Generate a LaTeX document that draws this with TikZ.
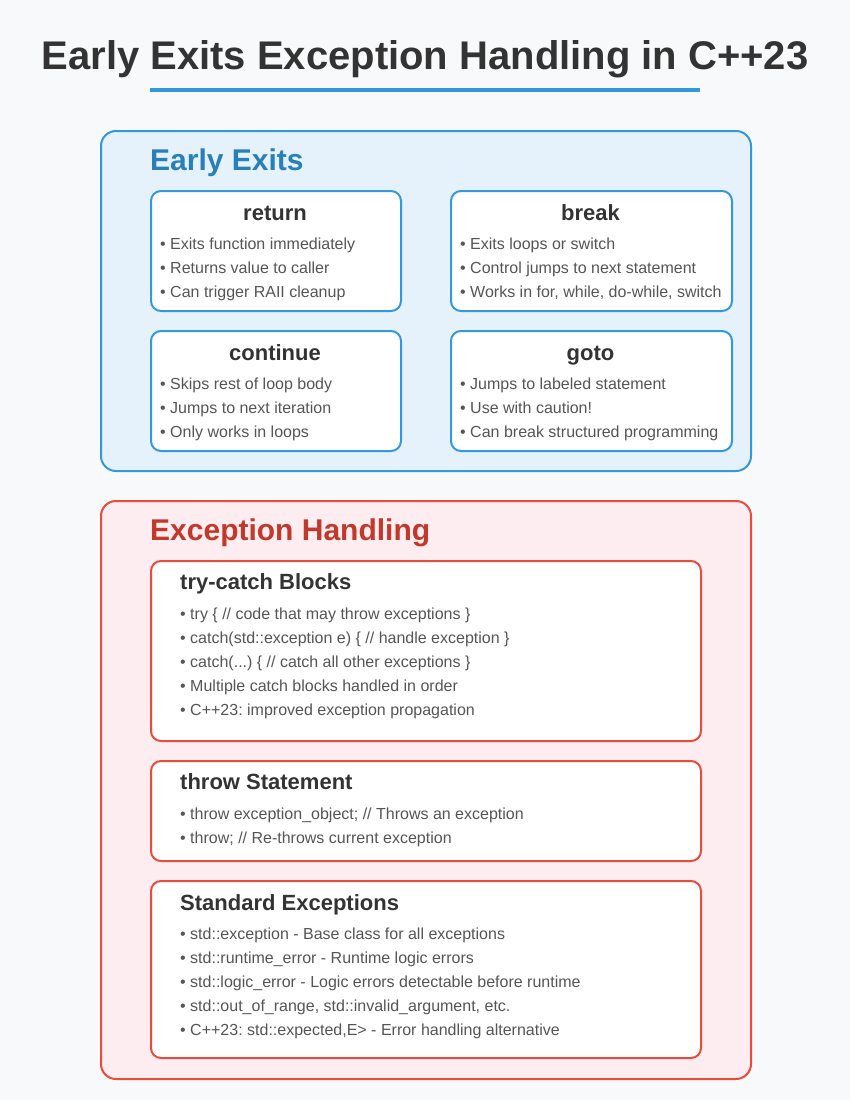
\documentclass[tikz,border=0pt]{standalone}
\usepackage{fontspec}
\setmainfont{Liberation Sans}
\usepackage{tikz}
\definecolor{bg}{HTML}{F8F9FA}
\definecolor{exblue}{HTML}{3498DB}
\definecolor{exbluedark}{HTML}{2980B9}
\definecolor{exfill}{HTML}{E5F2FB}
\definecolor{errred}{HTML}{E74C3C}
\definecolor{errdark}{HTML}{C0392B}
\definecolor{errfill}{HTML}{FDEDF1}
\definecolor{ink}{HTML}{333333}
\definecolor{inkgray}{HTML}{555555}
\newcommand{\threedots}{...}
\frenchspacing
\tikzset{
	panel/.style={draw, line width=2pt, rounded corners=15pt, inner sep=0pt, anchor=north west},
	card/.style={draw, fill=white, line width=2pt, rounded corners=10pt, inner sep=0pt, anchor=north west},
	heading/.style={font=\fontsize{30}{36}\selectfont\bfseries, anchor=base west, inner sep=0pt},
	cardtitle/.style={font=\fontsize{22}{26}\selectfont\bfseries, text=ink, inner sep=0pt},
	item/.style={font=\fontsize{16}{19}\selectfont, text=inkgray, anchor=base west, inner sep=0pt},
}

\begin{document}
\begin{tikzpicture}[x=1pt,y=-1pt]
	\fill[bg] (0,0) rectangle (850,1100);
	\useasboundingbox (0,0) rectangle (850,1100);
	% title
	\node (title) at(425,69)[anchor=base, inner sep=0pt, font=\fontsize{40}{48}\selectfont\bfseries, text=ink]{Early Exits Exception Handling in C++23};
	\draw[exblue, line width=3.5pt] (150,90) -- (700,90);

	% early exits
	\node (exits) at(100,130)[panel, draw=exblue, fill=exfill, minimum width=650pt, minimum height=340pt]{};
	\node (exits-h) at(150,170)[heading, text=exbluedark]{Early Exits};
	\node (ret) at(150,190)[card, draw=exblue, minimum width=250pt, minimum height=120pt]{};
	\node (brk) at(450,190)[card, draw=exblue, minimum width=281pt, minimum height=120pt]{};
	\node (cont) at(150,330)[card, draw=exblue, minimum width=250pt, minimum height=120pt]{};
	\node (gto) at(450,330)[card, draw=exblue, minimum width=281pt, minimum height=120pt]{};
	\node (ret-t) at(275,220)[cardtitle, anchor=base]{return};
	\node (brk-t) at(590.5,220)[cardtitle, anchor=base]{break};
	\node (cont-t) at(275,360)[cardtitle, anchor=base]{continue};
	\node (gto-t) at(590.5,360)[cardtitle, anchor=base]{goto};
	\foreach \t [count=\i] in {Exits function immediately, Returns value to caller, Can trigger RAII cleanup}
		\node (ret-\i) at(160,225.5+24*\i)[item]{• \t};
	\foreach \t [count=\i] in {Exits loops or switch, Control jumps to next statement, {Works in for, while, do-while, switch}}
		\node (brk-\i) at(460,225.5+24*\i)[item]{• \t};
	\foreach \t [count=\i] in {Skips rest of loop body, Jumps to next iteration, Only works in loops}
		\node (cont-\i) at(160,365.5+24*\i)[item]{• \t};
	\foreach \t [count=\i] in {Jumps to labeled statement, Use with caution!, Can break structured programming}
		\node (gto-\i) at(460,365.5+24*\i)[item]{• \t};

	% exception handling
	\node (errs) at(100,500)[panel, draw=errred, fill=errfill, minimum width=650pt, minimum height=578pt]{};
	\node (errs-h) at(150,540)[heading, text=errdark]{Exception Handling};
	\node (tryc) at(150,560)[card, draw=errred, minimum width=550pt, minimum height=180pt]{};
	\node (thrw) at(150,760)[card, draw=errred, minimum width=550pt, minimum height=100pt]{};
	\node (stde) at(150,880)[card, draw=errred, minimum width=550pt, minimum height=177pt]{};
	\node (tryc-t) at(180,589)[cardtitle, anchor=base west]{try-catch Blocks};
	\node (thrw-t) at(180,789)[cardtitle, anchor=base west]{throw Statement};
	\node (stde-t) at(180,910)[cardtitle, anchor=base west]{Standard Exceptions};
	\foreach \t [count=\i] in {try \{ // code that may throw exceptions \}, catch(std::exception e) \{ // handle exception \}, {catch(\threedots) \{ // catch all other exceptions \}}, Multiple catch blocks handled in order, C++23: improved exception propagation}
		\node (tryc-\i) at(180,595.5+24*\i)[item]{• \t};
	\foreach \t [count=\i] in {throw exception\_object; // Throws an exception, throw; // Re-throws current exception}
		\node (thrw-\i) at(180,795.5+24*\i)[item]{• \t};
	\foreach \t [count=\i] in {std::exception - Base class for all exceptions, std::runtime\_error - Runtime logic errors, std::logic\_error - Logic errors detectable before runtime, {std::out\_of\_range, std::invalid\_argument, etc.}, {C++23: std::expected,E> - Error handling alternative}}
		\node (stde-\i) at(180,915.5+24*\i)[item]{• \t};
\end{tikzpicture}
\end{document}
